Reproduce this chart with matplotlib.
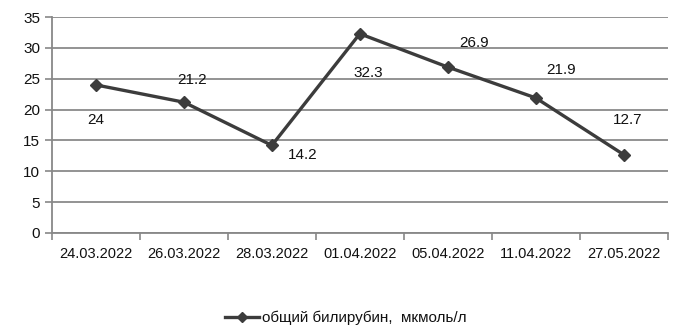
import matplotlib
matplotlib.use('Agg')
import matplotlib.pyplot as plt

dates = ['24.03.2022', '26.03.2022', '28.03.2022', '01.04.2022',
         '05.04.2022', '11.04.2022', '27.05.2022']
bilirubin = [24, 21.2, 14.2, 32.3, 26.9, 21.9, 12.7]
series_name = 'общий билирубин,  мкмоль/л'

# label offsets in points (dx, dy) relative to each marker
offsets = [(0, -25), (6, 16), (22, -7), (6, -28), (19, 17), (18, 20), (3, 25)]

plt.rcParams['font.family'] = ['Liberation Sans', 'DejaVu Sans']

fig = plt.figure(figsize=(6.78, 3.29), dpi=100)
ax = fig.add_axes([0.0767, 0.292, 0.908, 0.656])

x = list(range(len(dates)))
ax.plot(x, bilirubin, color='#3c3c3c', linewidth=2.4, marker='D', markersize=6.5,
        label=series_name)

for i, v in enumerate(bilirubin):
    ax.annotate(f'{v:g}', (x[i], v), xytext=offsets[i], textcoords='offset points',
                ha='center', va='center', fontsize=11, color='#111111')

ax.set_xlim(-0.5, len(dates) - 0.5)
ax.set_ylim(0, 35)
ax.set_yticks(range(0, 36, 5))
ax.set_xticks(x)
ax.set_xticklabels(dates)
ax.set_xticks([i - 0.5 for i in range(len(dates) + 1)], minor=True)
ax.tick_params(axis='x', which='major', length=0, pad=10, labelsize=10.5, colors='#111111')
ax.tick_params(axis='x', which='minor', length=5, color='#888888', width=1.2)
ax.tick_params(axis='y', length=5, color='#888888', width=1.2, labelsize=11, colors='#111111')
ax.yaxis.grid(True, color='#8a8a8a', linewidth=1.3)
ax.set_axisbelow(True)
for s in ['top', 'right']:
    ax.spines[s].set_visible(False)
for s in ['left', 'bottom']:
    ax.spines[s].set_color('#888888')
    ax.spines[s].set_linewidth(1.3)

fig.legend(loc='center', bbox_to_anchor=(0.51, 0.033), frameon=False, fontsize=11,
           handlelength=2.2, handletextpad=0.2, labelcolor='#111111', markerscale=0.8)

fig.savefig('out.png', dpi=100)
